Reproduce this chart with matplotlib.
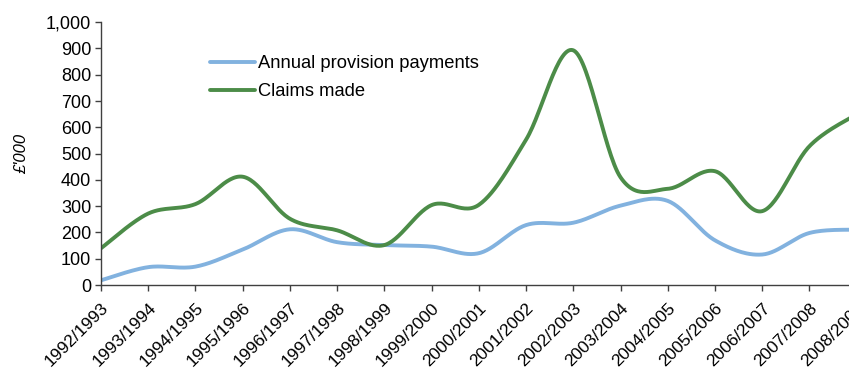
import numpy as np
import matplotlib
matplotlib.use("Agg")
from matplotlib import pyplot as plt
from matplotlib.ticker import FuncFormatter

plt.rcParams['font.family'] = ['Liberation Sans', 'DejaVu Sans']

years = ["1992/1993", "1993/1994", "1994/1995", "1995/1996", "1996/1997",
         "1997/1998", "1998/1999", "1999/2000", "2000/2001", "2001/2002",
         "2002/2003", "2003/2004", "2004/2005", "2005/2006", "2006/2007",
         "2007/2008", "2008/2009"]

# £'000 per financial year
payments = [18, 68, 70, 135, 212, 163, 152, 146, 121, 228, 237, 302, 320, 170, 116, 198, 211]
claims = [140, 272, 308, 412, 252, 208, 152, 304, 305, 553, 893, 410, 366, 433, 281, 528, 650]

blue = "#82b2df"
green = "#4c8c48"


def smooth(y, n=30):
    # Catmull-Rom style bezier through every point, like a spreadsheet "smoothed line"
    y = np.asarray(y, float)
    x = np.arange(len(y), dtype=float)
    xs, ys = [], []
    for i in range(len(y) - 1):
        p0 = (x[max(i - 1, 0)], y[max(i - 1, 0)])
        p1 = (x[i], y[i])
        p2 = (x[i + 1], y[i + 1])
        p3 = (x[min(i + 2, len(y) - 1)], y[min(i + 2, len(y) - 1)])
        c1 = (p1[0] + (p2[0] - p0[0]) / 6, p1[1] + (p2[1] - p0[1]) / 6)
        c2 = (p2[0] - (p3[0] - p1[0]) / 6, p2[1] - (p3[1] - p1[1]) / 6)
        t = np.linspace(0, 1, n, endpoint=False)
        a, b, c, d = (1 - t) ** 3, 3 * t * (1 - t) ** 2, 3 * t ** 2 * (1 - t), t ** 3
        xs.append(a * p1[0] + b * c1[0] + c * c2[0] + d * p2[0])
        ys.append(a * p1[1] + b * c1[1] + c * c2[1] + d * p2[1])
    xs.append([x[-1]])
    ys.append([y[-1]])
    return np.concatenate(xs), np.concatenate(ys)


fig = plt.figure(figsize=(8.49, 3.76), dpi=100)
# the last category sits just past the right edge of the figure
ax = fig.add_axes([0.119, 0.242, 0.890, 0.699])

ax.plot(*smooth(payments), color=blue, lw=2.8, label="Annual provision payments",
        solid_capstyle="round")
ax.plot(*smooth(claims), color=green, lw=2.8, label="Claims made",
        solid_capstyle="round")

ax.set_xlim(0, len(years) - 1)
ax.set_ylim(0, 1000)
ax.set_yticks(range(0, 1001, 100))
ax.yaxis.set_major_formatter(FuncFormatter(lambda v, p: f"{int(v):,}"))
ax.set_xticks(range(len(years)))
ax.set_xticklabels(years, rotation=45, ha="right", va="top", rotation_mode="anchor")

for s in ["top", "right"]:
    ax.spines[s].set_visible(False)
for s in ["left", "bottom"]:
    ax.spines[s].set_color("#404040")
    ax.spines[s].set_linewidth(1.0)

ax.tick_params(axis="y", length=4, width=1, color="#404040", labelsize=13, pad=3)
ax.tick_params(axis="x", length=4, width=1, color="#404040", labelsize=12.5, pad=7)

ax.set_ylabel("£'000", fontsize=12, style="italic", labelpad=12)

ax.legend(loc="upper left", bbox_to_anchor=(0.144, 0.875), frameon=False,
          borderaxespad=0, borderpad=0,
          fontsize=13.2, handlelength=2.45, handletextpad=0.15, labelspacing=0.62)

fig.savefig("out.png", dpi=100)
